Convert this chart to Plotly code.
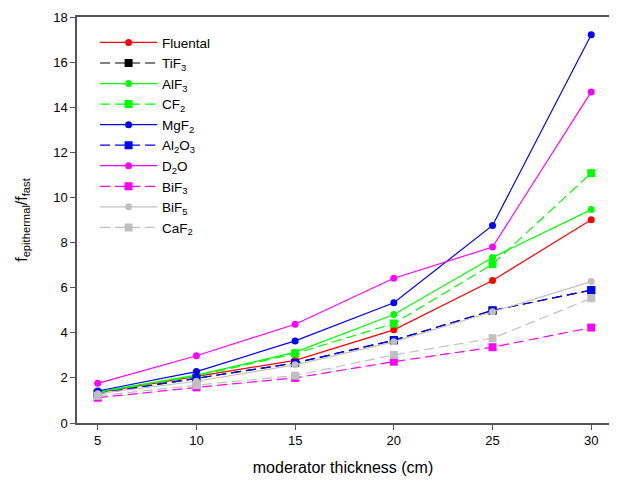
import plotly.graph_objects as go

thickness = [5, 10, 15, 20, 25, 30]
fluental = [1.35, 2.05, 2.78, 4.13, 6.32, 9.01]
tif3 = [1.30, 1.98, 2.66, 3.67, 4.99, 5.89]
alf3 = [1.38, 2.12, 3.14, 4.81, 7.34, 9.46]
cf2 = [1.35, 2.08, 3.08, 4.41, 7.04, 11.08]
mgf2 = [1.42, 2.28, 3.64, 5.33, 8.76, 17.21]
al2o3 = [1.30, 1.98, 2.66, 3.67, 4.99, 5.89]
d2o = [1.76, 2.98, 4.38, 6.42, 7.80, 14.68]
bif3 = [1.12, 1.58, 2.00, 2.72, 3.36, 4.23]
bif5 = [1.30, 1.85, 2.58, 3.60, 4.93, 6.27]
caf2 = [1.20, 1.68, 2.10, 3.02, 3.76, 5.53]

series = [
    ("Fluental", fluental, "#ff0000", "solid", "circle"),
    ("TiF<sub>3</sub>", tif3, "#000000", "dash", "square"),
    ("AlF<sub>3</sub>", alf3, "#00ff00", "solid", "circle"),
    ("CF<sub>2</sub>", cf2, "#00ff00", "dash", "square"),
    ("MgF<sub>2</sub>", mgf2, "#0000ff", "solid", "circle"),
    ("Al<sub>2</sub>O<sub>3</sub>", al2o3, "#0000ff", "dash", "square"),
    ("D<sub>2</sub>O", d2o, "#ff00ff", "solid", "circle"),
    ("BiF<sub>3</sub>", bif3, "#ff00ff", "dash", "square"),
    ("BiF<sub>5</sub>", bif5, "#c0c0c0", "solid", "circle"),
    ("CaF<sub>2</sub>", caf2, "#c0c0c0", "dash", "square"),
]

fig = go.Figure()
for name, vals, color, dash, sym in series:
    fig.add_trace(go.Scatter(
        x=thickness, y=vals, name=name, mode="lines+markers",
        line=dict(color=color, width=1.2, dash="solid" if dash == "solid" else "10px,5px"),
        marker=dict(color=color, symbol=sym, size=7 if sym == "circle" else 8),
    ))

axis_common = dict(
    showline=True, linecolor="#555555", linewidth=1.5, mirror=True,
    ticks="outside", ticklen=5, tickcolor="#555555", showgrid=False, zeroline=False,
    automargin=False,
    tickfont=dict(family="Liberation Sans, Arial, sans-serif", size=13, color="#000000"),
)

fig.update_layout(
    width=609, height=472,
    margin=dict(l=69, r=8, t=9, b=57),
    paper_bgcolor="white", plot_bgcolor="white",
    font=dict(family="Liberation Sans, Arial, sans-serif", color="#000000"),
    xaxis=dict(range=[3.95, 30.9], tickvals=[5, 10, 15, 20, 25, 30],
               title=dict(text="moderator thickness (cm)", font=dict(size=16), standoff=14),
               **axis_common),
    yaxis=dict(range=[0, 18], tickvals=list(range(0, 19, 2)),
               title=dict(text="f<sub>epithermal</sub>/f<sub>fast</sub>", font=dict(size=16), standoff=22),
               **axis_common),
    legend=dict(x=0.034, y=0.975, xanchor="left", yanchor="top",
                bgcolor="rgba(255,255,255,0)", borderwidth=0,
                font=dict(size=13.5), tracegroupgap=0, itemwidth=57),
    showlegend=True,
)

fig.write_html("out.html")
